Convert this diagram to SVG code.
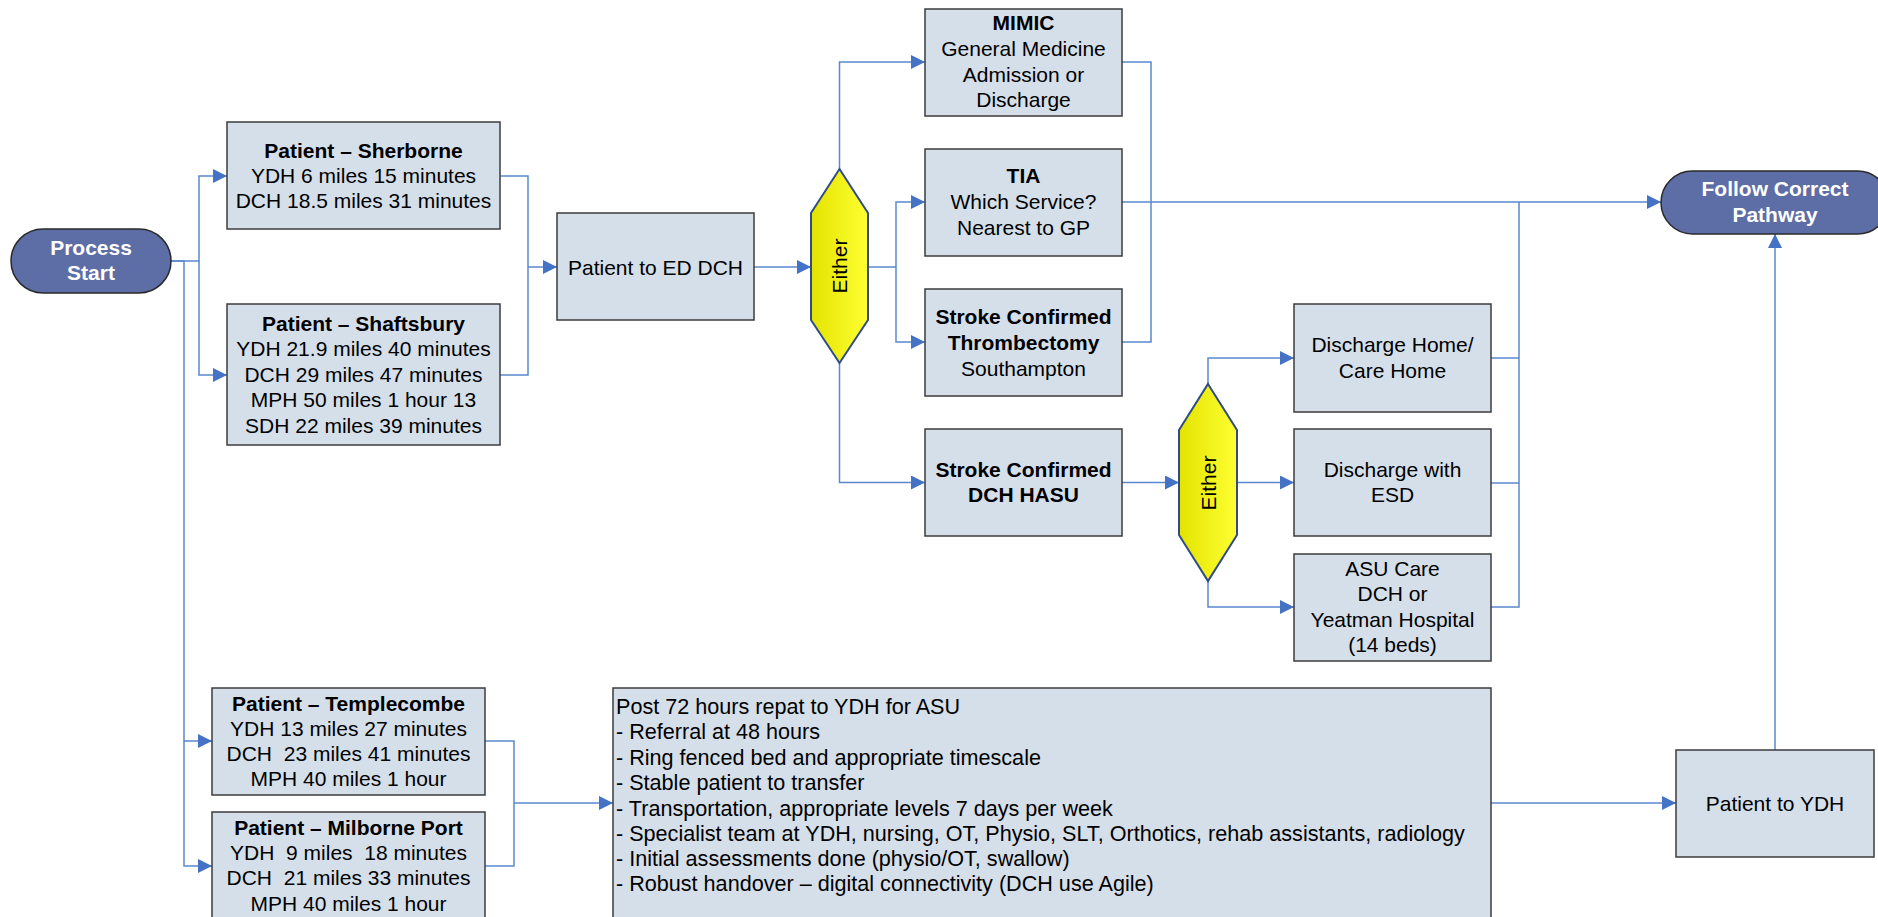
<svg xmlns="http://www.w3.org/2000/svg" width="1878" height="917" viewBox="0 0 1878 917">
<defs>
<linearGradient id="yel" x1="0" y1="0" x2="1" y2="0">
<stop offset="0" stop-color="#E3E300"/>
<stop offset="1" stop-color="#FFFF33"/>
</linearGradient>
<marker id="arr" markerUnits="userSpaceOnUse" markerWidth="15" markerHeight="15" refX="14" refY="7" orient="auto">
<path d="M0,0 L14,7 L0,14 z" fill="#4472C4"/>
</marker>
<style>
.box{fill:#D5DFEA;stroke:#3C3C3C;stroke-width:1.5}
.term{fill:#5D6DA6;stroke:#2A2A2A;stroke-width:1.5}
.hex{fill:url(#yel);stroke:#2F4C85;stroke-width:2}
.t{font-family:"Liberation Sans",Arial,sans-serif;font-size:21px;fill:#000;text-anchor:middle}
.b{font-weight:bold}
.w{fill:#FFFFFF;font-weight:bold}
.l{text-anchor:start;font-size:21.6px}
.c{fill:none;stroke:#5A88CE;stroke-width:1.5}
.ca{fill:none;stroke:#5A88CE;stroke-width:1.5;marker-end:url(#arr)}
</style>
</defs>
<rect width="1878" height="917" fill="#FFFFFF"/>

<g id="connectors">
<path class="ca" d="M171,261 H199 V176 H227"/>
<path class="ca" d="M199,261 V375 H227"/>
<path class="ca" d="M171,261 H184 V741 H212"/>
<path class="ca" d="M184,741 V866 H212"/>
<path class="c" d="M500,176 H528 V375 H500"/>
<path class="ca" d="M528,267 H557"/>
<path class="ca" d="M754,267 H811"/>
<path class="ca" d="M839.5,169 V62 H925"/>
<path class="c" d="M868,267 H896"/>
<path class="ca" d="M896,267 V202 H925"/>
<path class="ca" d="M896,267 V342 H925"/>
<path class="ca" d="M839.5,363 V482.5 H925"/>
<path class="c" d="M1122,62 H1151 V342 H1122"/>
<path class="ca" d="M1122,202 H1661"/>
<path class="ca" d="M1122,482.5 H1179"/>
<path class="ca" d="M1208,384 V358 H1294"/>
<path class="ca" d="M1237,482.5 H1294"/>
<path class="ca" d="M1208,581 V607 H1294"/>
<path class="c" d="M1491,358 H1519"/>
<path class="c" d="M1491,483 H1519"/>
<path class="c" d="M1491,607 H1519 V202"/>
<path class="c" d="M485,741 H514 V866 H485"/>
<path class="ca" d="M514,803 H613"/>
<path class="ca" d="M1491,803 H1676"/>
<path class="ca" d="M1775,750 V234"/>
</g>

<g id="process-start">
<rect class="term" x="11" y="229" width="160" height="64" rx="32" ry="32"/>
<text class="t w" x="91" y="255">Process</text>
<text class="t w" x="91" y="280">Start</text>
</g>

<g id="sherborne">
<rect class="box" x="227" y="122" width="273" height="107"/>
<text class="t b" x="363.5" y="157.5">Patient – Sherborne</text>
<text class="t" x="363.5" y="182.5">YDH 6 miles 15 minutes</text>
<text class="t" x="363.5" y="207.5">DCH 18.5 miles 31 minutes</text>
</g>

<g id="shaftsbury">
<rect class="box" x="227" y="304" width="273" height="141"/>
<text class="t b" x="363.5" y="331">Patient – Shaftsbury</text>
<text class="t" x="363.5" y="356">YDH 21.9 miles 40 minutes</text>
<text class="t" x="363.5" y="381.5">DCH 29 miles 47 minutes</text>
<text class="t" x="363.5" y="407">MPH 50 miles 1 hour 13</text>
<text class="t" x="363.5" y="432.5">SDH 22 miles 39 minutes</text>
</g>

<g id="ed-dch">
<rect class="box" x="557" y="213" width="197" height="107"/>
<text class="t" x="655.5" y="274.5">Patient to ED DCH</text>
</g>

<g id="either-1">
<polygon class="hex" points="839.5,169 868,213 868,320 839.5,363 811,320 811,213"/>
<text class="t" transform="translate(847,266) rotate(-90)">Either</text>
</g>

<g id="mimic">
<rect class="box" x="925" y="9" width="197" height="107"/>
<text class="t b" x="1023.5" y="30">MIMIC</text>
<text class="t" x="1023.5" y="56">General Medicine</text>
<text class="t" x="1023.5" y="82">Admission or</text>
<text class="t" x="1023.5" y="107">Discharge</text>
</g>

<g id="tia">
<rect class="box" x="925" y="149" width="197" height="107"/>
<text class="t b" x="1023.5" y="183">TIA</text>
<text class="t" x="1023.5" y="209">Which Service?</text>
<text class="t" x="1023.5" y="235">Nearest to GP</text>
</g>

<g id="thrombectomy">
<rect class="box" x="925" y="289" width="197" height="107"/>
<text class="t b" x="1023.5" y="324">Stroke Confirmed</text>
<text class="t b" x="1023.5" y="350">Thrombectomy</text>
<text class="t" x="1023.5" y="376">Southampton</text>
</g>

<g id="hasu">
<rect class="box" x="925" y="429" width="197" height="107"/>
<text class="t b" x="1023.5" y="477">Stroke Confirmed</text>
<text class="t b" x="1023.5" y="502">DCH HASU</text>
</g>

<g id="either-2">
<polygon class="hex" points="1208,384 1237,430 1237,535 1208,581 1179,535 1179,430"/>
<text class="t" transform="translate(1215.5,483) rotate(-90)">Either</text>
</g>

<g id="discharge-home">
<rect class="box" x="1294" y="304" width="197" height="108"/>
<text class="t" x="1392.5" y="352">Discharge Home/</text>
<text class="t" x="1392.5" y="378">Care Home</text>
</g>

<g id="discharge-esd">
<rect class="box" x="1294" y="429" width="197" height="107"/>
<text class="t" x="1392.5" y="477">Discharge with</text>
<text class="t" x="1392.5" y="502">ESD</text>
</g>

<g id="asu-care">
<rect class="box" x="1294" y="554" width="197" height="107"/>
<text class="t" x="1392.5" y="576">ASU Care</text>
<text class="t" x="1392.5" y="601">DCH or</text>
<text class="t" x="1392.5" y="627">Yeatman Hospital</text>
<text class="t" x="1392.5" y="652">(14 beds)</text>
</g>

<g id="follow-correct">
<rect class="term" x="1661" y="171" width="228" height="63" rx="31.5" ry="31.5"/>
<text class="t w" x="1775" y="196">Follow Correct</text>
<text class="t w" x="1775" y="222">Pathway</text>
</g>

<g id="templecombe">
<rect class="box" x="212" y="688" width="273" height="107"/>
<text class="t b" x="348.5" y="711">Patient – Templecombe</text>
<text class="t" x="348.5" y="736">YDH 13 miles 27 minutes</text>
<text class="t" x="348.5" y="761" xml:space="preserve">DCH  23 miles 41 minutes</text>
<text class="t" x="348.5" y="786">MPH 40 miles 1 hour</text>
</g>

<g id="milborne-port">
<rect class="box" x="212" y="812" width="273" height="110"/>
<text class="t b" x="348.5" y="835">Patient – Milborne Port</text>
<text class="t" x="348.5" y="860" xml:space="preserve">YDH  9 miles  18 minutes</text>
<text class="t" x="348.5" y="885" xml:space="preserve">DCH  21 miles 33 minutes</text>
<text class="t" x="348.5" y="911">MPH 40 miles 1 hour</text>
</g>

<g id="repat-ydh">
<rect class="box" x="613" y="688" width="878" height="234"/>
<text class="t l" x="616" y="714">Post 72 hours repat to YDH for ASU</text>
<text class="t l" x="616" y="739">- Referral at 48 hours</text>
<text class="t l" x="616" y="764.5">- Ring fenced bed and appropriate timescale</text>
<text class="t l" x="616" y="790">- Stable patient to transfer</text>
<text class="t l" x="616" y="815.5">- Transportation, appropriate levels 7 days per week</text>
<text class="t l" x="616" y="841">- Specialist team at YDH, nursing, OT, Physio, SLT, Orthotics, rehab assistants, radiology</text>
<text class="t l" x="616" y="866">- Initial assessments done (physio/OT, swallow)</text>
<text class="t l" x="616" y="891">- Robust handover – digital connectivity (DCH use Agile)</text>
</g>

<g id="patient-ydh">
<rect class="box" x="1676" y="750" width="198" height="107"/>
<text class="t" x="1775" y="811">Patient to YDH</text>
</g>
</svg>
